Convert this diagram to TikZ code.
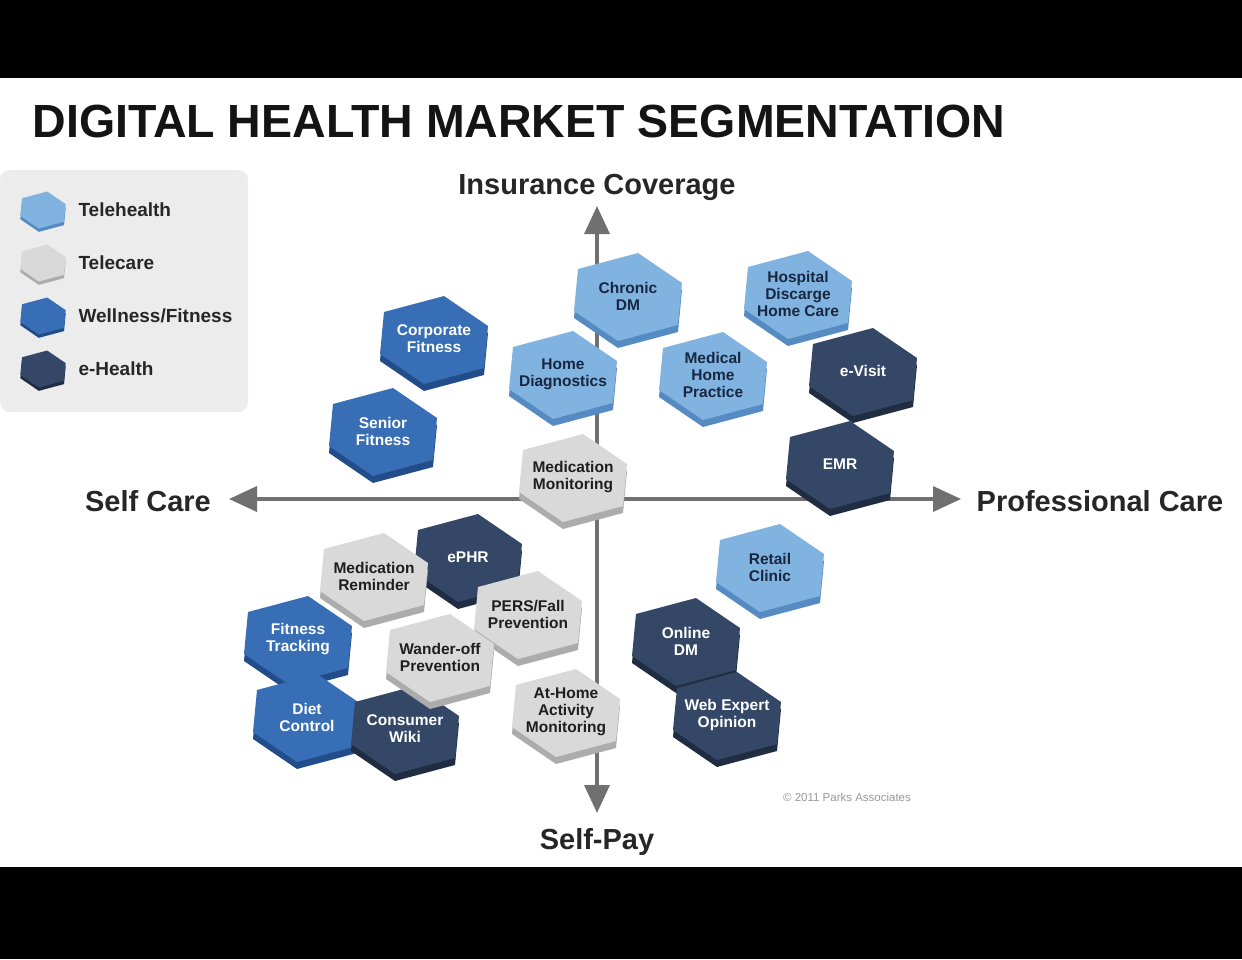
\documentclass[tikz,border=0pt]{standalone}
\usepackage{fontspec}
\setmainfont{Liberation Sans}
\usetikzlibrary{arrows.meta}

\definecolor{teleF}{RGB}{128,179,224}
\definecolor{teleS}{RGB}{86,138,194}
\definecolor{teleT}{RGB}{24,38,64}
\definecolor{careF}{RGB}{217,217,217}
\definecolor{careS}{RGB}{172,172,172}
\definecolor{careT}{RGB}{30,30,30}
\definecolor{wellF}{RGB}{56,110,182}
\definecolor{wellS}{RGB}{34,76,138}
\definecolor{ehF}{RGB}{53,71,102}
\definecolor{ehS}{RGB}{32,44,66}
\definecolor{axisgray}{RGB}{112,112,112}
\definecolor{legendbg}{RGB}{236,236,236}

\tikzset{
  tele-face/.style={fill=teleF}, tele-side/.style={fill=teleS}, tele-text/.style={text=teleT},
  care-face/.style={fill=careF}, care-side/.style={fill=careS}, care-text/.style={text=careT},
  well-face/.style={fill=wellF}, well-side/.style={fill=wellS}, well-text/.style={text=white},
  eh-face/.style={fill=ehF}, eh-side/.style={fill=ehS}, eh-text/.style={text=white},
  axisline/.style={draw=axisgray, line width=3.5pt, -{Triangle[length=28pt,width=25pt]}},
  axislabel/.style={font=\bfseries\fontsize{29}{32}\selectfont, text=black!85},
  hexlabel/.style={font=\bfseries\fontsize{15.5}{17}\selectfont, align=center},
}

\begin{document}
\begin{tikzpicture}[x=1pt,y=-1pt]
\useasboundingbox (0,0) rectangle (1242,959);
\fill[white] (0,0) rectangle (1242,959);
\fill[black] (0,0) rectangle (1242,78);
\fill[black] (0,867) rectangle (1242,959);

\node[anchor=base west, font=\bfseries\fontsize{46.5}{52}\selectfont, text=black!92] (title) at (29,137) {DIGITAL HEALTH MARKET SEGMENTATION};

% legend
\fill[legendbg, rounded corners=10pt] (0,170) rectangle (248,412);
\foreach \k/\y/\t in {tele/210/Telehealth, care/263/Telecare, well/316/{Wellness/Fitness}, eh/369/e-Health}
{
  \begin{scope}[shift={(43,\y)}, scale=0.42]
    \fill[\k-side, yshift=-8pt] (10,-44) -- (54,-14) -- (50,28) -- (-10,44) -- (-54,14) -- (-50,-28) -- cycle;
    \fill[\k-face] (10,-44) -- (54,-14) -- (50,28) -- (-10,44) -- (-54,14) -- (-50,-28) -- cycle;
  \end{scope}
  \node[anchor=west, font=\bfseries\fontsize{19}{22}\selectfont, text=black!85] (legend-\k) at (75,\y) {\t};
}

% axes
\coordinate (c) at (597,499);
\coordinate (up) at (597,206);
\coordinate (down) at (597,813);
\coordinate (left) at (229,499);
\coordinate (right) at (961,499);
\draw[axisline] (c) -- (up);
\draw[axisline] (c) -- (down);
\draw[axisline] (c) -- (left);
\draw[axisline] (c) -- (right);

\node[axislabel] (insurance) at (597,187) {Insurance Coverage};
\node[axislabel] (selfcare) at (148,501) {Self Care};
\node[axislabel] (professional) at (1100,501) {Professional Care};
\node[axislabel] (selfpay) at (597,842) {Self-Pay};

% segments
\foreach \n/\x/\y/\k/\t in {
  chronic/628/297/tele/{Chronic\\DM},
  homediag/563/375/tele/{Home\\Diagnostics},
  medhome/713/376/tele/{Medical\\Home\\Practice},
  hospital/798/295/tele/{Hospital\\Discarge\\Home Care},
  retail/770/568/tele/{Retail\\Clinic},
  evisit/863/372/eh/e-Visit,
  emr/840/465/eh/EMR,
  ephr/468/558/eh/ePHR,
  onlinedm/686/642/eh/{Online\\DM},
  webexpert/727/716/eh/{Web Expert\\Opinion},
  corporate/434/340/well/{Corporate\\Fitness},
  senior/383/432/well/{Senior\\Fitness},
  fittrack/298/640/well/{Fitness\\Tracking},
  diet/307/718/well/{Diet\\Control},
  conswiki/405/730/eh/{Consumer\\Wiki},
  medmon/573/478/care/{Medication\\Monitoring},
  medrem/374/577/care/{Medication\\Reminder},
  pers/528/615/care/{PERS/Fall\\Prevention},
  wander/440/658/care/{Wander-off\\Prevention},
  athome/566/713/care/{At-Home\\Activity\\Monitoring}}
{
  \begin{scope}[shift={(\x,\y)}]
    \fill[\k-side, yshift=-7pt] (10,-44) -- (54,-14) -- (50,28) -- (-10,44) -- (-54,14) -- (-50,-28) -- cycle;
    \fill[\k-face] (10,-44) -- (54,-14) -- (50,28) -- (-10,44) -- (-54,14) -- (-50,-28) -- cycle;
    \node[hexlabel, \k-text] (\n) at (0,-1) {\t};
  \end{scope}
}

\node[font=\fontsize{11.5}{13}\selectfont, text=black!40] (copyright) at (847,797) {© 2011 Parks Associates};
\end{tikzpicture}
\end{document}
